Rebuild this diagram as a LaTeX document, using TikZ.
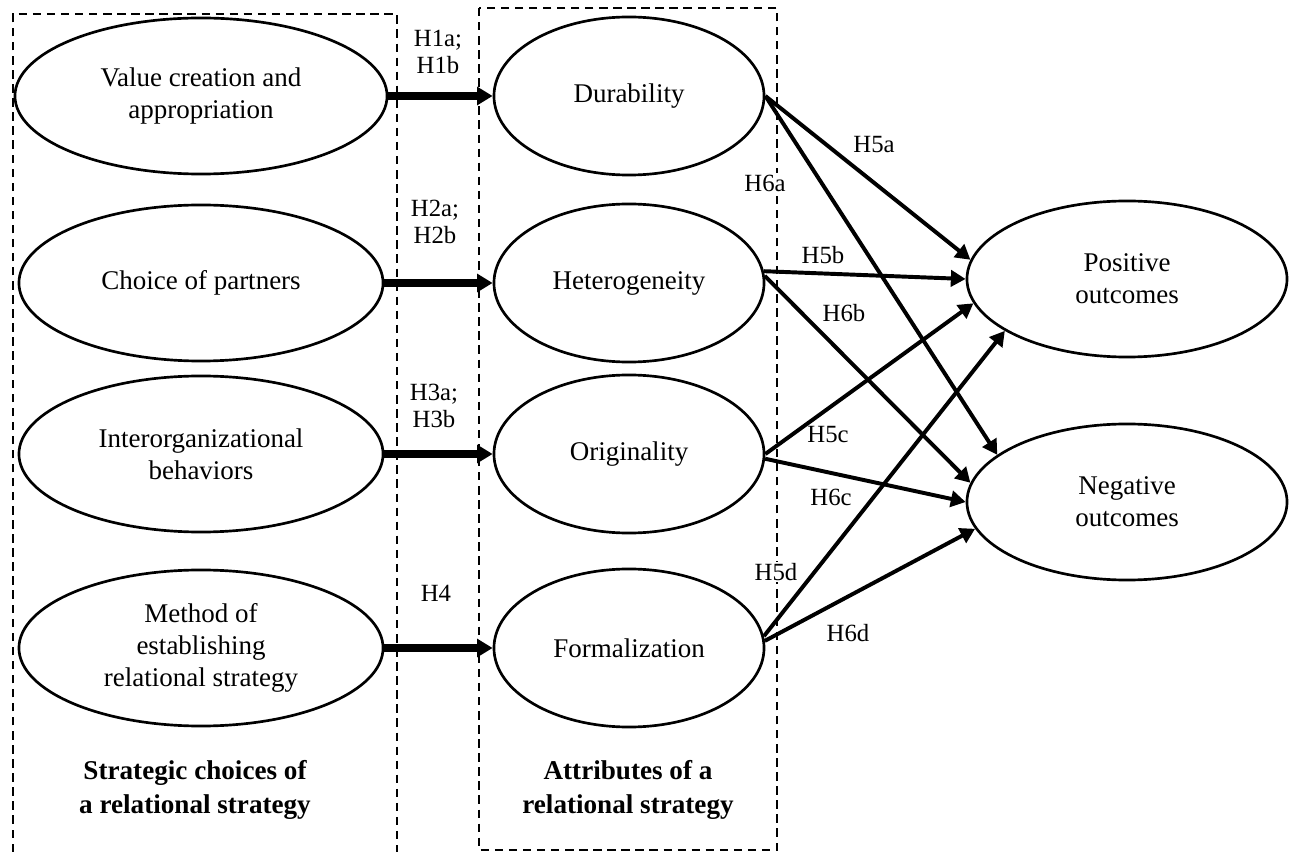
\documentclass[tikz,border=0pt]{standalone}
\usepackage{fontspec}
\setmainfont{Liberation Serif}
\usetikzlibrary{shapes.geometric,arrows.meta}

\begin{document}
\begin{tikzpicture}[x=0.025cm,y=-0.025cm,
	choice/.style={draw,ellipse,line width=1.9pt,minimum width=9.1cm,minimum height=3.9cm,
		inner sep=0pt,align=center,font=\fontsize{19.2}{22.5}\selectfont},
	attr/.style={choice,minimum width=6.75cm,minimum height=3.95cm},
	outc/.style={choice,minimum width=8cm},
	hyp/.style={align=center,fill=white,inner sep=1pt,font=\fontsize{17.6}{19.5}\selectfont},
	caption/.style={align=center,font=\fontsize{19.3}{24}\selectfont\bfseries},
	groupbox/.style={line width=1.5pt,dash pattern=on 6pt off 4pt},
	mainlink/.style={-{Triangle[length=11pt,width=12.5pt]},line width=5pt},
	link/.style={-{Triangle[length=10.5pt,width=11.5pt]},line width=2.8pt}]
	\useasboundingbox (0,0) rectangle (1290,852);
	% dashed groups
	\draw[groupbox] (13,852) -- (13,14) -- (397,14) -- (397,852);
	\draw[groupbox] (479,8) rectangle (777,850);
	% strategic choices
	\node[choice,minimum width=9.3cm] (value) at (201,96) {Value creation and\\appropriation};
	\node[choice] (partner) at (201,283) {Choice of partners};
	\node[choice] (behav) at (201,454) {Interorganizational\\behaviors};
	\node[choice] (method) at (201,648) {Method of\\establishing\\relational strategy};
	% attributes
	\node[attr] (durab) at (629,96) {Durability};
	\node[attr] (hetero) at (629,283) {Heterogeneity};
	\node[attr] (orig) at (629,454) {Originality};
	\node[attr] (formal) at (629,648) {Formalization};
	% outcomes
	\node[outc] (pos) at (1127,279) {Positive\\outcomes};
	\node[outc] (neg) at (1127,502) {Negative\\outcomes};
	\node[caption] (leftcap) at (195,790) {Strategic choices of\\a relational strategy};
	\node[caption] (rightcap) at (628,790) {Attributes of a\\relational strategy};
	% hypothesis labels
	\node[hyp] (h1) at (438,52) {H1a;\\H1b};
	\node[hyp] (h2) at (435,222) {H2a;\\H2b};
	\node[hyp] (h3) at (434,406) {H3a;\\H3b};
	\node[hyp] (h4) at (436,593) {H4};
	\node[hyp] (h5a) at (874,145) {H5a};
	\node[hyp] (h6a) at (765,183) {H6a};
	\node[hyp] (h5b) at (823,255) {H5b};
	\node[hyp] (h6b) at (844,313) {H6b};
	\node[hyp] (h5c) at (828,435) {H5c};
	\node[hyp] (h6c) at (831,497) {H6c};
	\node[hyp] (h5d) at (776,572) {H5d};
	\node[hyp] (h6d) at (848,633) {H6d};
	% H1--H4
	\draw[mainlink] (value) -- (durab);
	\draw[mainlink] (partner) -- (hetero);
	\draw[mainlink] (behav) -- (orig);
	\draw[mainlink] (method) -- (formal);
	% H5 and H6
	\draw[link] (durab.east) -- (pos.173);
	\draw[link] (durab.east) -- (neg.160);
	\draw[link] (hetero.5) -- (pos.west);
	\draw[link] (hetero.3) -- (neg.173);
	\draw[link] (orig.east) -- (pos.189);
	\draw[link] (orig.-2) -- (neg.west);
	\draw[link] (formal.5) -- (pos.203);
	\draw[link] (formal.3) -- (neg.190);
\end{tikzpicture}
\end{document}
